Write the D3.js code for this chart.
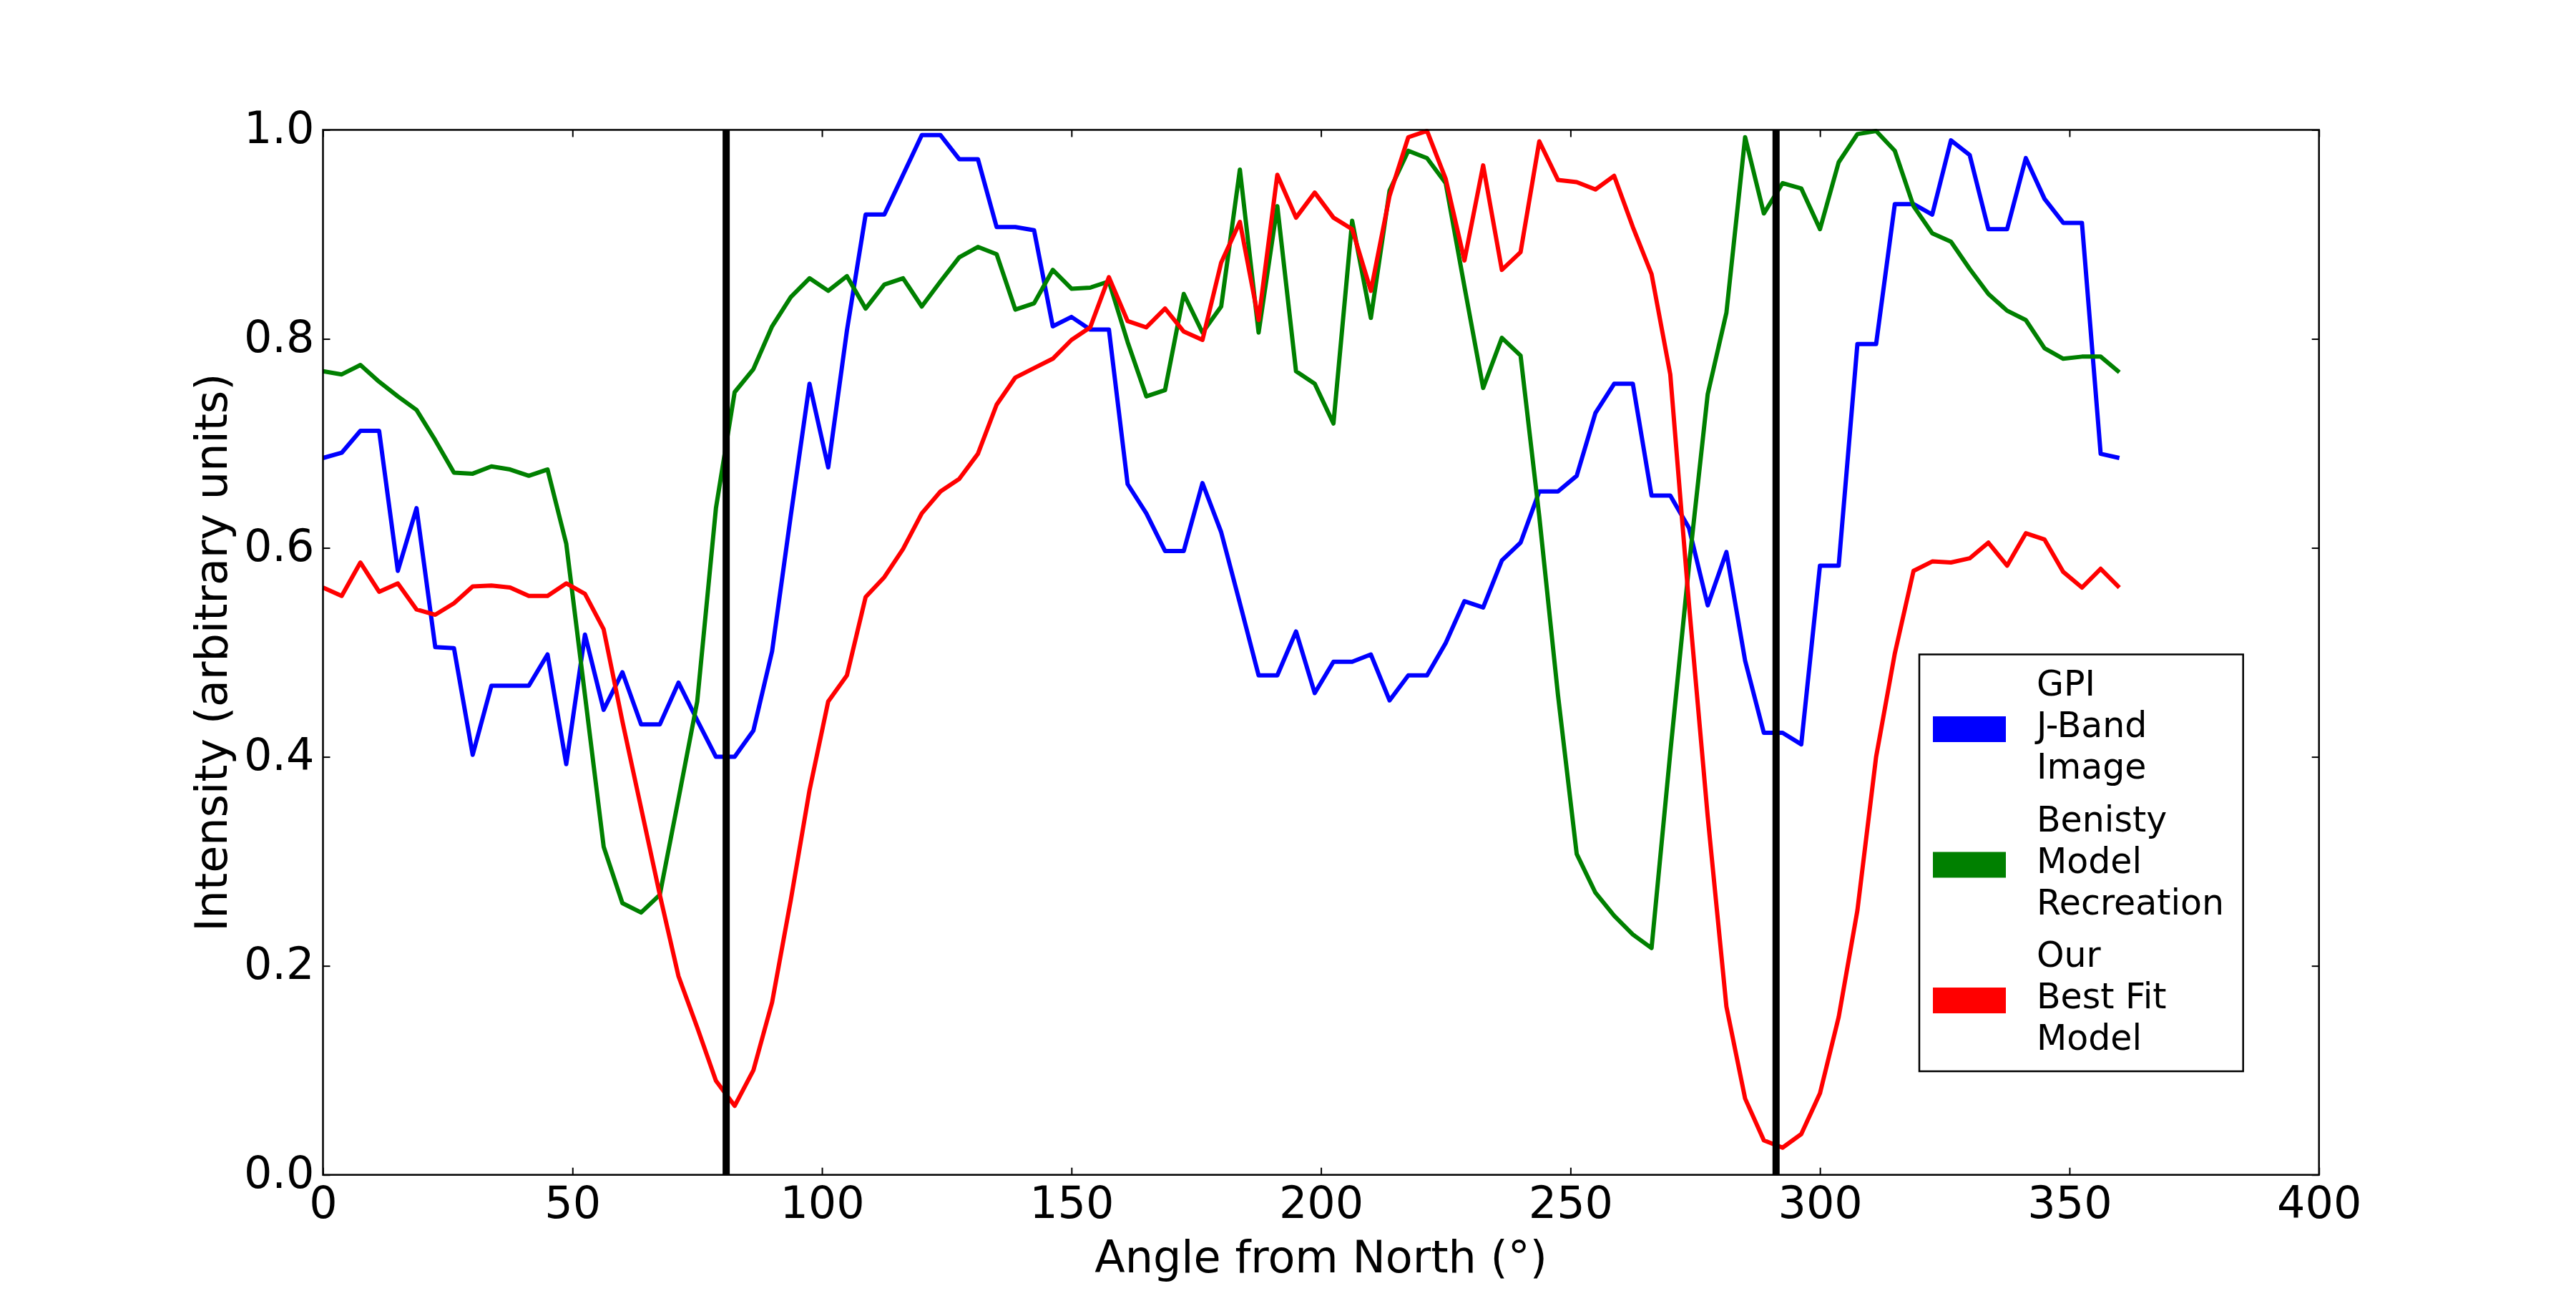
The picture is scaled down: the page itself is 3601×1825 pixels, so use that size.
<!DOCTYPE html>
<html>
<head>
<meta charset="utf-8">
<script src="https://cdn.jsdelivr.net/npm/d3@7"></script>
<style>
body { margin: 0; background: #fff; }
text { font-family: 'DejaVu Sans', sans-serif; fill: #000; }
</style>
</head>
<body>
<svg id="svg" width="3601" height="1825"></svg>
<script>
const angles = [
  0, 3.75, 7.5, 11.25, 15, 18.75, 22.5, 26.25, 30, 33.75, 37.5, 41.25, 45, 48.75, 52.5, 56.25,
  60, 63.75, 67.5, 71.25, 75, 78.75, 82.5, 86.25, 90, 93.75, 97.5, 101.25, 105, 108.75, 112.5, 116.25,
  120, 123.75, 127.5, 131.25, 135, 138.75, 142.5, 146.25, 150, 153.75, 157.5, 161.25, 165, 168.75, 172.5, 176.25,
  180, 183.75, 187.5, 191.25, 195, 198.75, 202.5, 206.25, 210, 213.75, 217.5, 221.25, 225, 228.75, 232.5, 236.25,
  240, 243.75, 247.5, 251.25, 255, 258.75, 262.5, 266.25, 270, 273.75, 277.5, 281.25, 285, 288.75, 292.5, 296.25,
  300, 303.75, 307.5, 311.25, 315, 318.75, 322.5, 326.25, 330, 333.75, 337.5, 341.25, 345, 348.75, 352.5, 356.25,
  360
]

const gpiJBand = [
  0.686, 0.691, 0.712, 0.712, 0.578, 0.638, 0.505, 0.504, 0.402, 0.468, 0.468, 0.468, 0.498, 0.393, 0.517, 0.445,
  0.481, 0.431, 0.431, 0.471, 0.435, 0.400, 0.400, 0.425, 0.501, 0.631, 0.757, 0.677, 0.808, 0.919, 0.919, 0.957,
  0.995, 0.995, 0.972, 0.972, 0.907, 0.907, 0.904, 0.812, 0.821, 0.809, 0.809, 0.661, 0.633, 0.597, 0.597, 0.662,
  0.615, 0.547, 0.478, 0.478, 0.520, 0.461, 0.491, 0.491, 0.498, 0.454, 0.478, 0.478, 0.509, 0.549, 0.543, 0.588,
  0.605, 0.654, 0.654, 0.669, 0.729, 0.757, 0.757, 0.650, 0.650, 0.619, 0.545, 0.596, 0.492, 0.423, 0.423, 0.412,
  0.583, 0.583, 0.795, 0.795, 0.929, 0.929, 0.919, 0.990, 0.976, 0.905, 0.905, 0.973, 0.934, 0.911, 0.911, 0.690,
  0.686
]

const benistyModel = [
  0.769, 0.766, 0.775, 0.759, 0.745, 0.732, 0.703, 0.672, 0.671, 0.678, 0.675, 0.669, 0.675, 0.604, 0.459, 0.314,
  0.260, 0.251, 0.268, 0.360, 0.453, 0.638, 0.749, 0.771, 0.812, 0.840, 0.858, 0.846, 0.860, 0.829, 0.852, 0.858,
  0.831, 0.855, 0.878, 0.888, 0.881, 0.828, 0.834, 0.866, 0.848, 0.849, 0.855, 0.797, 0.745, 0.751, 0.843, 0.806,
  0.831, 0.962, 0.806, 0.927, 0.769, 0.757, 0.719, 0.913, 0.820, 0.942, 0.980, 0.973, 0.949, 0.850, 0.753, 0.801,
  0.784, 0.630, 0.459, 0.307, 0.270, 0.248, 0.230, 0.217, 0.404, 0.583, 0.747, 0.825, 0.993, 0.920, 0.949, 0.944,
  0.905, 0.969, 0.996, 0.999, 0.980, 0.927, 0.901, 0.893, 0.867, 0.843, 0.827, 0.818, 0.791, 0.781, 0.783, 0.783,
  0.768
]

const bestFitModel = [
  0.562, 0.554, 0.586, 0.558, 0.566, 0.541, 0.536, 0.547, 0.563, 0.564, 0.562, 0.554, 0.554, 0.566, 0.556, 0.522,
  0.434, 0.351, 0.268, 0.190, 0.141, 0.090, 0.066, 0.100, 0.165, 0.263, 0.368, 0.453, 0.478, 0.553, 0.572, 0.599,
  0.633, 0.654, 0.666, 0.690, 0.737, 0.763, 0.772, 0.781, 0.799, 0.811, 0.859, 0.817, 0.811, 0.829, 0.807, 0.799,
  0.873, 0.912, 0.818, 0.957, 0.916, 0.940, 0.916, 0.905, 0.846, 0.937, 0.993, 0.999, 0.953, 0.875, 0.966, 0.866,
  0.883, 0.989, 0.952, 0.950, 0.943, 0.956, 0.907, 0.862, 0.766, 0.546, 0.343, 0.161, 0.073, 0.033, 0.026, 0.039,
  0.078, 0.151, 0.253, 0.400, 0.499, 0.578, 0.587, 0.586, 0.590, 0.605, 0.583, 0.614, 0.608, 0.577, 0.562, 0.580,
  0.562
]

// angles of the two black markers
const markerAngles = [80.8, 291.2]

const xTicks = [0, 50, 100, 150, 200, 250, 300, 350, 400]
const yTicks = [0, 0.2, 0.4, 0.6, 0.8, 1.0]

const seriesLabels = [
  ['GPI', 'J-Band', 'Image'],
  ['Benisty', 'Model', 'Recreation'],
  ['Our', 'Best Fit', 'Model']
]
const seriesColors = ['#0000ff', '#008000', '#ff0000']

const handleData = () => {
  const left = 451.5
  const right = 3241.7
  const top = 181.5
  const bottom = 1641.7
  const tickLen = 10

  const series = [gpiJBand, benistyModel, bestFitModel]

  const xScale = d3.scaleLinear()
    .domain([0, 400])
    .range([left, right])

  const yScale = d3.scaleLinear()
    .domain([0, 1])
    .range([bottom, top])

  const lineGen = d3.line()
    .x((d, i) => xScale(angles[i]))
    .y(d => yScale(d))

  const svg = d3.select('#svg')

  svg.append('rect')
    .attr('width', 3601)
    .attr('height', 1825)
    .attr('fill', '#fff')

  const graph = svg.append('g')

  series.forEach((values, k) => {
    graph.append('path')
      .attr('d', lineGen(values))
      .attr('fill', 'none')
      .attr('stroke', seriesColors[k])
      .attr('stroke-width', 6)
      .attr('stroke-linejoin', 'round')
  })

  graph.selectAll('.marker')
    .data(markerAngles)
    .join('line')
    .attr('class', 'marker')
    .attr('x1', d => xScale(d))
    .attr('x2', d => xScale(d))
    .attr('y1', yScale(0))
    .attr('y2', yScale(1))
    .attr('stroke', '#000')
    .attr('stroke-width', 10)

  // axes, ticks pointing inward on all four sides
  const xAxis = svg.append('g')
    .attr('transform', `translate(0, ${bottom})`)
    .call(d3.axisBottom(xScale).tickValues(xTicks).tickSize(-tickLen).tickFormat(d3.format('d')))
  xAxis.selectAll('text')
    .attr('y', 60)
    .attr('dy', 0)
    .attr('font-size', 62)

  svg.append('g')
    .attr('transform', `translate(0, ${top})`)
    .call(d3.axisTop(xScale).tickValues(xTicks).tickSize(-tickLen).tickFormat(''))

  const yAxis = svg.append('g')
    .attr('transform', `translate(${left}, 0)`)
    .call(d3.axisLeft(yScale).tickValues(yTicks).tickSize(-tickLen).tickFormat(d3.format('.1f')))
  yAxis.selectAll('text')
    .attr('x', -12)
    .attr('dy', 18)
    .attr('font-size', 62)

  svg.append('g')
    .attr('transform', `translate(${right}, 0)`)
    .call(d3.axisRight(yScale).tickValues(yTicks).tickSize(-tickLen).tickFormat(''))

  svg.selectAll('.domain').remove()
  svg.selectAll('.tick line').attr('stroke', '#000').attr('stroke-width', 2)

  svg.append('rect')
    .attr('x', left)
    .attr('y', top)
    .attr('width', right - left)
    .attr('height', bottom - top)
    .attr('fill', 'none')
    .attr('stroke', '#000')
    .attr('stroke-width', 2.5)

  svg.append('text')
    .attr('x', (left + right) / 2)
    .attr('y', 1778)
    .attr('text-anchor', 'middle')
    .attr('font-size', 62)
    .text('Angle from North (°)')

  svg.append('text')
    .attr('transform', `translate(317, ${(top + bottom) / 2}) rotate(-90)`)
    .attr('text-anchor', 'middle')
    .attr('font-size', 62)
    .text('Intensity (arbitrary units)')

  // legend
  const legend = svg.append('g')
    .attr('transform', 'translate(2683, 914.5)')

  legend.append('rect')
    .attr('width', 452.7)
    .attr('height', 582.5)
    .attr('fill', '#fff')
    .attr('stroke', '#000')
    .attr('stroke-width', 2.5)

  seriesLabels.forEach((lines, k) => {
    const entry = legend.append('g')
      .attr('transform', `translate(0, ${k * 189.5})`)
    entry.append('rect')
      .attr('x', 19)
      .attr('y', 86.5)
      .attr('width', 102)
      .attr('height', 36)
      .attr('fill', seriesColors[k])
    lines.forEach((line, j) => {
      entry.append('text')
        .attr('x', 164)
        .attr('y', 57.5 + j * 58)
        .attr('font-size', 49)
        .text(line)
    })
  })
}

handleData()
</script>
</body>
</html>
